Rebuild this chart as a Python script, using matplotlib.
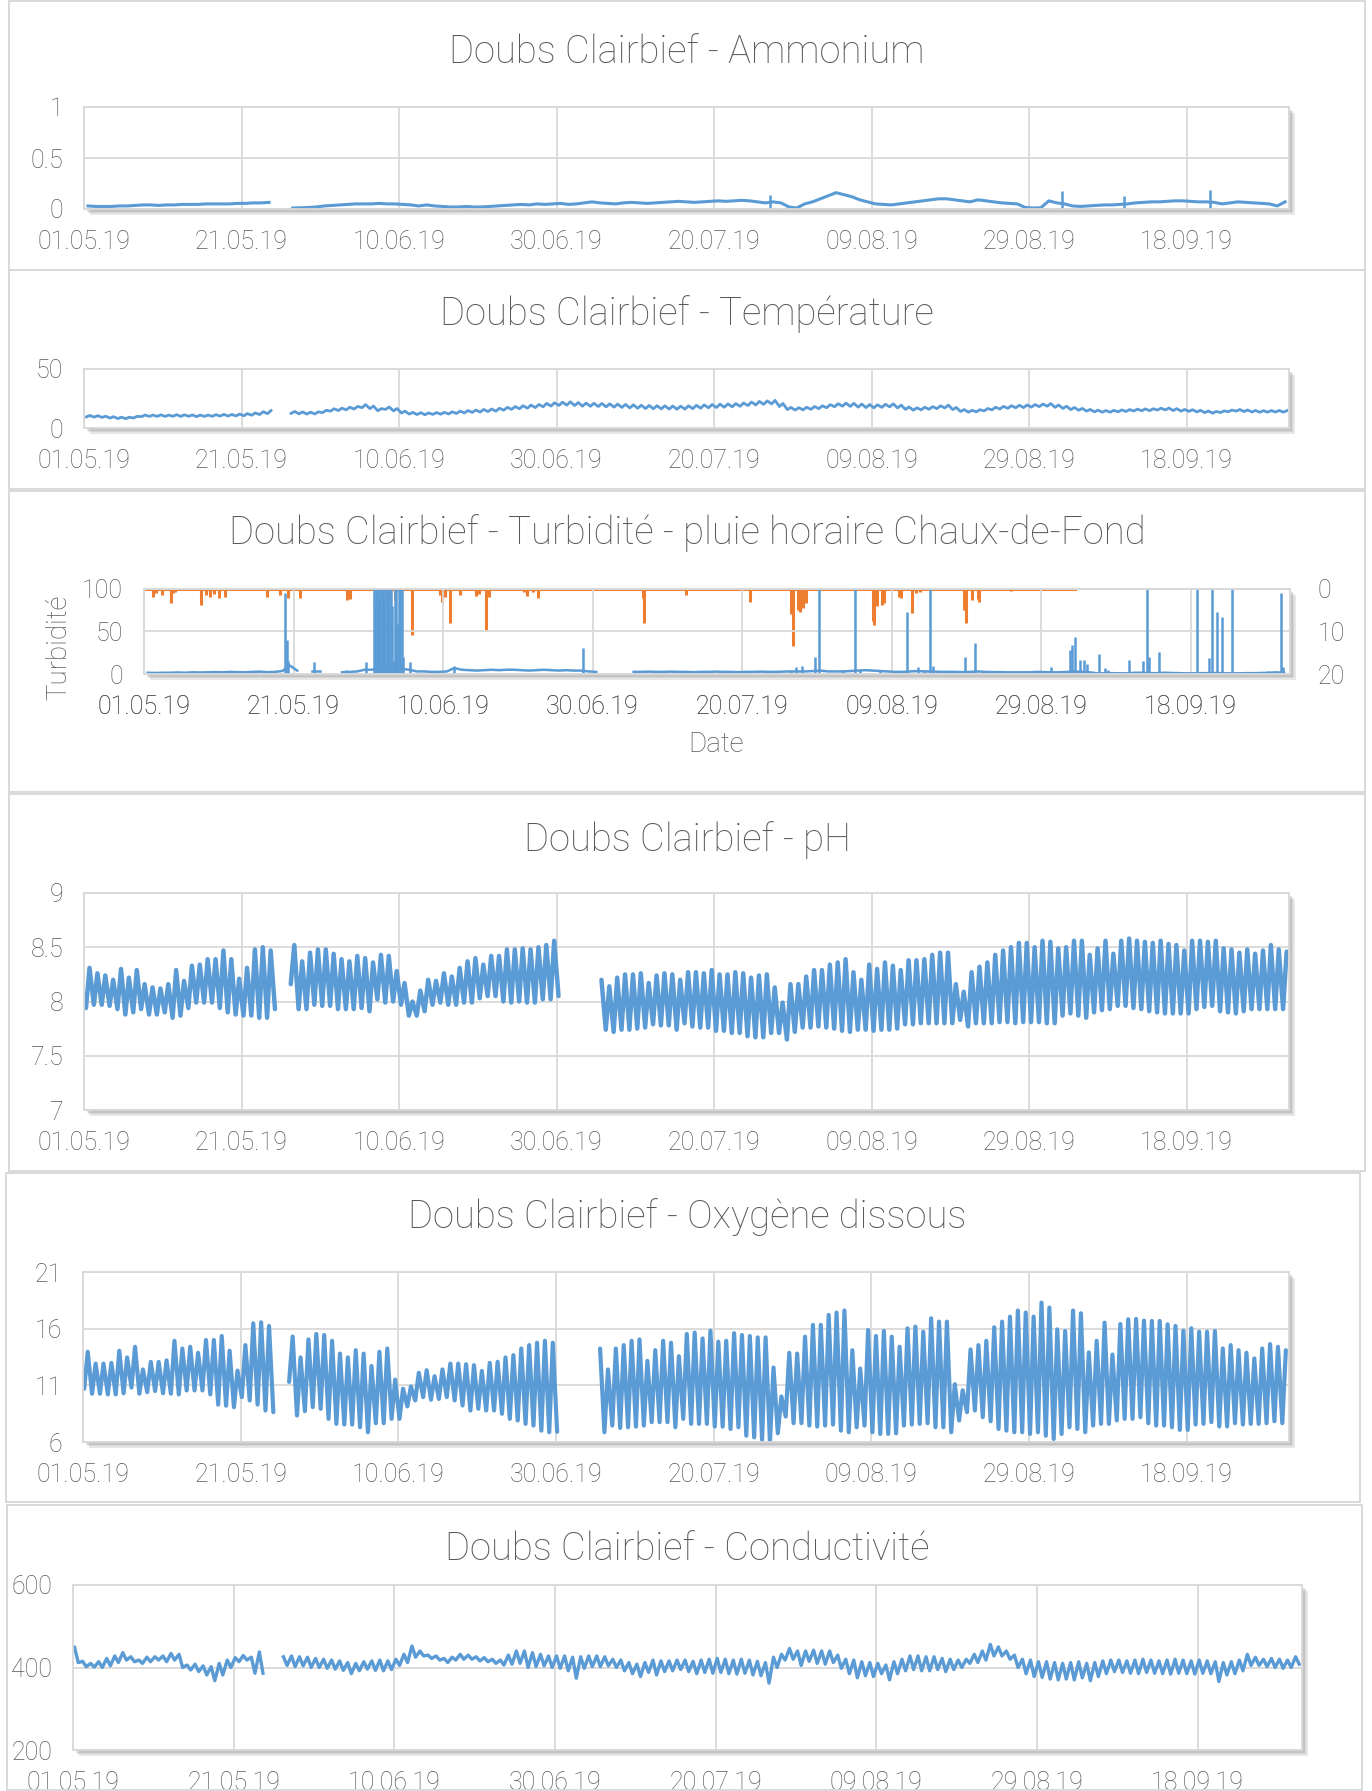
"""Doubs Clairbief: six stacked water-quality charts (mai - septembre 2019)."""

import numpy as np
import pandas as pd
import matplotlib

matplotlib.use("Agg")
import matplotlib.pyplot as plt
from matplotlib import patheffects as pe
from matplotlib.patches import Rectangle

plt.rcParams["font.family"] = ["Roboto", "DejaVu Sans"]
plt.rcParams["font.weight"] = "light"

nan = np.nan

# --------------------------------------------------------------------------- #
# Time axis (days since 01.05.2019)
# --------------------------------------------------------------------------- #
START = pd.Timestamp("2019-05-01")
TICK_DAYS = [0, 20, 40, 60, 80, 100, 120, 140]
X_END = 153.0

BLUE = "#5b9bd5"
ORANGE = "#ed7d31"
GRID = "#d9d9d9"
TEXT = "#595959"

# --------------------------------------------------------------------------- #
# Ammonium (mg/l), one value per day, plus short spikes
# --------------------------------------------------------------------------- #
AMM_START = [0, 26]
AMM_VALUES = [
    [0.030, 0.025, 0.025, 0.025, 0.030, 0.030, 0.035, 0.040, 0.040, 0.035,
     0.040, 0.040, 0.045, 0.045, 0.045, 0.050, 0.050, 0.050, 0.050, 0.055,
     0.055, 0.060, 0.060, 0.065],
    [0.010, 0.012, 0.015, 0.020, 0.030, 0.035, 0.040, 0.045, 0.050, 0.050,
     0.050, 0.055, 0.050, 0.050, 0.045, 0.040, 0.030, 0.040, 0.030, 0.025,
     0.020, 0.020, 0.025, 0.020, 0.020, 0.025, 0.030, 0.035, 0.040, 0.045,
     0.040, 0.050, 0.045, 0.050, 0.055, 0.045, 0.050, 0.060, 0.070, 0.060,
     0.055, 0.050, 0.060, 0.065, 0.060, 0.055, 0.060, 0.065, 0.070, 0.075,
     0.070, 0.065, 0.070, 0.075, 0.080, 0.075, 0.080, 0.085, 0.080, 0.070,
     0.060, 0.070, 0.060, 0.020, 0.010, 0.050, 0.070, 0.100, 0.130, 0.160,
     0.140, 0.120, 0.090, 0.070, 0.050, 0.045, 0.040, 0.050, 0.060, 0.070,
     0.080, 0.090, 0.100, 0.100, 0.090, 0.080, 0.070, 0.090, 0.080, 0.070,
     0.060, 0.055, 0.050, 0.015, 0.010, 0.012, 0.080, 0.060, 0.050, 0.030,
     0.025, 0.030, 0.035, 0.040, 0.040, 0.045, 0.050, 0.060, 0.065, 0.070,
     0.070, 0.075, 0.080, 0.080, 0.075, 0.070, 0.070, 0.065, 0.050, 0.060,
     0.070, 0.065, 0.060, 0.055, 0.050, 0.030, 0.070],
]
AMM_SPIKE_DAY = [87.1, 124.2, 132.0, 143.0]
AMM_SPIKE_VAL = [0.14, 0.18, 0.13, 0.19]

# --------------------------------------------------------------------------- #
# Temperature (°C): daily minimum and maximum
# --------------------------------------------------------------------------- #
TEMP_START = [0, 26]
TEMP_LO = [
    [9.4, 9.2, 9.0, 8.4, 8.0, 7.9, 8.5, 9.6, 9.8, 9.8, 9.8, 9.9, 9.8, 9.9,
     9.6, 9.8, 9.9, 10.1, 10.1, 10.2, 10.4, 10.8, 11.4, 12.2],
    [12.4, 12.0, 11.8, 11.9, 13.0, 14.3, 14.8, 15.4, 16.1, 17.2,
     16.4, 14.6, 15.8, 14.5, 12.7, 11.8, 11.4, 11.2, 11.5, 11.7,
     11.9, 12.3, 12.8, 13.2, 13.5, 13.9, 14.3, 15.1, 15.8, 16.3,
     16.8, 17.3, 18.0, 18.6, 19.1, 19.4, 19.0, 18.5, 18.4, 18.2,
     17.9, 17.7, 17.4, 17.0, 16.7, 16.5, 16.3, 16.2, 16.0, 15.9,
     16.0, 16.4, 16.8, 17.1, 17.4, 17.6, 17.9, 18.4, 19.0, 19.5,
     20.0, 20.4, 18.2, 15.6, 15.2, 15.4, 15.8, 16.4, 17.2, 18.0,
     18.5, 18.3, 17.7, 17.3, 17.1, 17.5, 17.9, 17.0, 15.8, 15.1,
     15.4, 15.9, 16.4, 17.0, 15.6, 14.0, 13.4, 13.7, 14.5, 15.4,
     16.1, 16.7, 17.1, 17.3, 17.7, 18.1, 18.5, 17.5, 16.6, 15.6,
     15.0, 14.3, 13.7, 13.4, 13.4, 13.7, 14.0, 14.4, 14.6, 14.7,
     15.2, 15.3, 14.8, 14.3, 14.1, 13.6, 13.0, 12.6, 13.1, 13.8,
     14.3, 13.9, 13.5, 13.3, 13.4, 13.5, 13.4],
]
TEMP_HI = [
    [10.6, 10.4, 10.0, 9.6, 9.2, 9.1, 9.9, 11.0, 11.0, 11.2, 11.0, 11.3,
     11.2, 11.1, 11.0, 11.0, 11.3, 11.5, 11.5, 11.8, 12.2, 12.8, 13.8, 14.8],
    [14.0, 13.6, 13.4, 13.7, 15.0, 16.3, 16.8, 17.6, 18.3, 19.8,
     18.6, 16.4, 17.8, 16.5, 14.3, 13.2, 13.0, 12.8, 13.1, 13.3,
     13.7, 14.3, 14.8, 15.2, 15.7, 16.1, 16.7, 17.5, 18.2, 18.9,
     19.4, 19.9, 20.8, 21.4, 21.9, 22.2, 21.6, 21.1, 21.0, 20.8,
     20.5, 20.3, 20.0, 19.6, 19.3, 19.1, 18.9, 18.8, 18.6, 18.5,
     18.8, 19.2, 19.6, 19.9, 20.2, 20.4, 20.7, 21.2, 22.0, 22.5,
     23.0, 23.4, 20.8, 17.4, 17.2, 17.6, 18.2, 18.8, 19.8, 20.6,
     21.1, 20.9, 20.3, 19.9, 19.7, 20.1, 20.5, 19.4, 17.8, 17.1,
     17.6, 18.1, 18.8, 19.4, 17.4, 15.6, 15.0, 15.5, 16.5, 17.6,
     18.3, 18.9, 19.3, 19.5, 19.9, 20.3, 20.7, 19.5, 18.4, 17.4,
     16.6, 15.7, 15.1, 14.8, 15.0, 15.3, 15.6, 16.0, 16.2, 16.3,
     16.8, 16.9, 16.4, 15.7, 15.5, 15.0, 14.4, 14.0, 14.5, 15.2,
     15.7, 15.3, 14.9, 14.7, 14.8, 14.9, 14.8],
]

# --------------------------------------------------------------------------- #
# Turbidity (NTU) daily baseline + short events, hourly rain (mm)
# --------------------------------------------------------------------------- #
TURB_START = [0, 22, 26, 65]
TURB_BASE = [
    [1.5, 1.2, 1.5, 1.5, 1.8, 1.5, 2.0, 1.8, 2.0, 2.2, 2.0, 2.5, 2.2, 2.0,
     2.5, 2.8, 2.2, 2.5, 3.5, 10.0, 4.0],
    [4.0, 4.0],
    [2.0, 2.5, 3.0, 5.0, 5.0, 8.0, 10.0, 8.0, 6.0, 5.0, 3.0, 3.0, 2.5, 2.5,
     3.0, 7.0, 5.0, 4.5, 4.0, 4.5, 5.0, 4.5, 5.0, 5.0, 4.5, 4.0, 4.5, 5.0,
     4.5, 4.0, 4.5, 4.0, 4.0, 3.0, 2.5],
    [2.5, 2.5, 2.8, 2.5, 2.5, 2.8, 2.5, 2.5, 2.2, 2.5, 2.5, 2.8, 2.5, 2.5,
     2.2, 2.5, 2.5, 2.8, 2.5, 2.5, 2.8, 3.0,
     3.0, 3.0, 3.5, 4.0, 3.0, 3.0, 3.0, 3.5, 4.0, 4.5, 4.0, 3.5, 3.0, 2.5,
     2.5, 3.0, 3.5, 3.0, 3.0, 2.5, 2.5, 2.5, 2.2, 2.5, 3.0, 2.5, 2.2, 2.2,
     2.0, 2.0, 2.0, 2.0, 2.5, 2.2, 2.0, 2.0, 2.5, 3.0, 2.5, 2.0,
     0.8, 0.8, 1.0, 0.8, 0.8, 1.5, 1.5, 1.0, 1.0, 1.5, 1.2, 1.0, 0.8, 0.8,
     1.0, 1.0, 1.2, 0.8, 0.8, 0.8, 1.0, 1.0, 1.2, 1.5, 2.0, 1.5],
]
TURB_SPIKE_DAY = [
    18.9, 19.1, 19.3, 22.8, 27.0, 29.7,
    30.8, 31.0, 31.1, 31.3, 31.5, 31.6, 31.8, 32.0, 32.1, 32.3, 32.5, 32.6,
    32.8, 33.0, 33.2, 33.4, 33.6, 33.7, 33.9, 34.1, 34.3, 34.5, 34.7,
    35.6, 41.5, 58.7,
    86.5, 87.2, 88.0, 89.7, 90.3, 93.5, 95.1, 95.8, 98.5, 100.5, 102.1,
    103.5, 104.3, 105.1, 105.6, 109.8, 111.1, 119.0, 121.3, 122.4, 123.9,
    124.1, 124.5, 125.2, 125.8, 126.2, 127.7, 128.5, 129.0, 131.7, 133.7,
    134.2, 134.5, 135.8, 140.8, 142.5, 142.8, 143.5, 144.2, 145.5, 150.3,
    152.1, 152.3,
]
TURB_SPIKE_NTU = [
    95, 40, 15, 14, 5, 14,
    130, 80, 130, 130, 90, 130, 130, 130, 85, 130, 130, 95,
    130, 130, 80, 15, 130, 130, 60, 130, 130, 130, 20,
    14, 10, 30,
    5, 8, 9, 20, 130, 5, 130, 5, 4, 3, 73,
    8, 4, 130, 10, 20, 37, 4, 8, 4, 28,
    34, 43, 16, 16, 12, 24, 7, 5, 16, 15,
    130, 20, 26, 130, 19, 130, 73, 67, 130, 3,
    95, 8,
]
RAIN_END = 124.5
RAIN_DAY = [
    1.2, 1.6, 2.4, 3.6, 3.9, 4.2, 7.6, 8.3, 8.8, 9.4, 10.0, 10.8, 16.4,
    18.2, 19.3, 20.9, 27.2, 27.5, 33.6, 35.9, 39.6, 39.9, 40.3, 40.9, 42.3,
    44.4, 44.8, 45.8, 46.2, 50.8, 51.3, 52.0, 52.7, 66.7, 66.9, 72.5, 81.1,
    86.6, 86.8, 87.5, 87.8, 88.2, 88.6, 97.5, 97.7, 98.0, 98.7, 99.0, 101.0,
    101.2, 102.8, 103.3, 103.8, 109.7, 109.9, 110.8, 111.5, 111.7, 116.0,
]
RAIN_MM = [
    1.8, 1.0, 1.5, 3.4, 1.0, 0.8, 3.8, 1.5, 2.0, 1.2, 2.2, 2.0, 1.8,
    1.4, 2.2, 2.2, 2.6, 2.4, 2.6, 10.8, 1.5, 3.0, 2.0, 8.1, 1.4,
    1.6, 1.2, 10.0, 1.8, 0.8, 1.6, 0.6, 2.2, 2.2, 8.0, 1.4, 3.0,
    6.0, 13.4, 5.0, 5.5, 4.5, 3.4, 7.5, 8.5, 4.0, 3.8, 3.2, 1.8,
    2.2, 5.7, 1.0, 0.6, 5.0, 8.0, 2.6, 2.4, 3.0, 0.4,
]

# --------------------------------------------------------------------------- #
# pH: daily minimum (morning) and maximum (afternoon)
# --------------------------------------------------------------------------- #
PH_START = [0, 26, 65]
PH_LO = [
    [7.94, 7.97, 7.97, 7.96, 7.93, 7.88, 7.90, 7.93, 7.88, 7.88, 7.90, 7.85,
     7.87, 7.94, 7.99, 7.99, 7.99, 7.94, 7.90, 7.88, 7.87, 7.87, 7.85, 7.85,
     7.93],
    [8.16, 7.93, 7.93, 7.97, 7.96, 7.96, 7.93, 7.93, 7.93, 7.94, 7.91, 8.02,
     7.99, 8.00, 7.97, 7.87, 7.87, 7.91, 7.97, 7.99, 7.97, 7.97, 7.99, 7.99,
     8.03, 8.05, 8.05, 8.00, 7.99, 8.00, 7.99, 7.99, 8.02, 8.02, 8.05],
    [nan, 7.74, 7.72, 7.74, 7.74, 7.75, 7.76, 7.79, 7.78, 7.78,
     7.74, 7.80, 7.77, 7.76, 7.76, 7.73, 7.73, 7.71, 7.71, 7.68,
     7.67, 7.67, 7.71, 7.71, 7.65, 7.72, 7.76, 7.76, 7.77, 7.76,
     7.75, 7.73, 7.72, 7.74, 7.74, 7.73, 7.74, 7.74, 7.75, 7.79,
     7.79, 7.80, 7.80, 7.80, 7.80, 7.80, 7.83, 7.77, 7.80, 7.80,
     7.80, 7.81, 7.81, 7.80, 7.81, 7.81, 7.81, 7.80, 7.80, 7.87,
     7.89, 7.87, 7.85, 7.90, 7.92, 7.93, 7.96, 7.96, 7.94, 7.93,
     7.91, 7.90, 7.89, 7.89, 7.89, 7.89, 7.93, 7.95, 7.96, 7.91,
     7.90, 7.89, 7.91, 7.93, 7.93, 7.93, 7.93, 7.93],
]
PH_HI = [
    [8.31, 8.26, 8.24, 8.20, 8.30, 8.22, 8.29, 8.16, 8.13, 8.12, 8.16, 8.29,
     8.19, 8.33, 8.34, 8.39, 8.39, 8.47, 8.39, 8.21, 8.31, 8.48, 8.50, 8.47,
     nan],
    [8.52, 8.37, 8.45, 8.48, 8.48, 8.44, 8.39, 8.37, 8.42, 8.40, 8.36, 8.43,
     8.42, 8.28, 8.17, 8.00, 8.10, 8.20, 8.19, 8.26, 8.23, 8.31, 8.37, 8.40,
     8.34, 8.42, 8.42, 8.48, 8.48, 8.49, 8.48, 8.50, 8.52, 8.56, nan],
    [8.20, 8.14, 8.22, 8.25, 8.25, 8.26, 8.17, 8.24, 8.26, 8.25,
     8.20, 8.27, 8.27, 8.26, 8.29, 8.25, 8.25, 8.27, 8.26, 8.22,
     8.24, 8.25, 8.13, 7.99, 8.16, 8.16, 8.23, 8.29, 8.29, 8.34,
     8.36, 8.39, 8.27, 8.20, 8.34, 8.30, 8.36, 8.33, 8.29, 8.38,
     8.38, 8.39, 8.43, 8.45, 8.45, 8.16, 8.09, 8.27, 8.32, 8.36,
     8.43, 8.47, 8.50, 8.54, 8.54, 8.50, 8.56, 8.55, 8.49, 8.50,
     8.56, 8.56, 8.43, 8.49, 8.56, 8.44, 8.56, 8.58, 8.56, 8.55,
     8.54, 8.56, 8.53, 8.52, 8.47, 8.56, 8.56, 8.55, 8.56, 8.49,
     8.48, 8.45, 8.48, 8.44, 8.47, 8.52, 8.48, 8.46],
]

# --------------------------------------------------------------------------- #
# Dissolved oxygen (mg/l): daily minimum and maximum
# --------------------------------------------------------------------------- #
O2_START = [0, 26, 65]
O2_LO = [
    [10.70, 10.26, 10.26, 10.20, 10.20, 10.30, 10.80, 10.26, 10.40, 10.50,
     10.30, 10.26, 10.20, 10.55, 10.55, 10.55, 10.20, 9.30, 9.20, 9.07,
     9.96, 9.67, 9.30, 8.78, 8.63],
    [11.30, 8.34, 8.72, 9.08, 8.93, 8.04, 7.60, 7.54, 7.54, 7.30,
     6.86, 7.66, 7.66, 8.04, 8.04, 9.14, 9.67, 9.96, 9.73, 9.80,
     9.96, 9.67, 9.22, 8.78, 8.93, 8.78, 8.78, 8.49, 8.04, 7.90,
     7.60, 7.45, 7.00, 6.86, 6.90],
    [nan, 6.86, 7.45, 7.24, 7.30, 7.36, 7.45, 7.75, 7.75, 7.75,
     7.30, 8.04, 7.60, 7.60, 7.60, 7.36, 7.36, 7.15, 7.30, 6.56,
     6.41, 6.18, 5.97, 6.77, 8.25, 7.66, 7.66, 7.45, 7.36, 7.45,
     7.54, 7.00, 6.86, 7.30, 7.45, 6.86, 6.71, 6.71, 6.77, 7.45,
     7.54, 7.60, 7.66, 7.30, 7.30, 6.86, 7.90, 8.63, 8.78, 8.19,
     7.83, 7.15, 7.00, 6.86, 6.86, 6.71, 6.86, 6.56, 6.27, 6.71,
     7.30, 7.15, 6.86, 7.45, 7.60, 7.60, 7.90, 8.04, 8.04, 8.19,
     7.66, 7.45, 7.45, 7.30, 7.07, 7.07, 7.54, 7.60, 7.75, 7.37,
     7.37, 7.66, 7.54, 7.60, 7.60, 7.66, 7.83, 7.66],
]
O2_HI = [
    [13.96, 12.92, 12.92, 12.98, 14.05, 13.46, 14.40, 12.40, 13.07, 13.07,
     13.20, 14.93, 14.25, 14.40, 13.87, 15.00, 15.00, 15.35, 14.05, 12.30,
     14.55, 16.47, 16.56, 16.24, nan],
    [15.30, 13.46, 15.05, 15.53, 15.44, 14.93, 13.80, 13.46, 14.10, 13.80,
     12.70, 13.96, 14.25, 11.50, 10.70, 10.90, 12.10, 12.33, 11.80, 12.40,
     12.92, 12.92, 12.86, 12.78, 12.27, 12.98, 13.07, 13.46, 13.66, 14.25,
     14.55, 14.76, 14.93, 14.76, nan],
    [14.25, 12.40, 14.25, 14.55, 14.93, 15.05, 13.16, 14.10, 14.93, 14.76,
     13.57, 15.53, 15.65, 15.14, 15.82, 14.85, 14.93, 15.60, 15.44, 15.35,
     15.23, 15.23, 12.57, 10.02, 13.87, 13.80, 15.29, 16.33, 16.33, 17.21,
     17.42, 17.60, 14.10, 12.48, 15.88, 15.35, 15.80, 15.29, 14.40, 16.03,
     16.18, 15.73, 16.92, 16.62, 16.62, 11.10, 10.56, 14.17, 14.55, 14.93,
     16.12, 16.62, 17.06, 17.60, 17.42, 17.06, 18.30, 17.86, 15.94, 15.79,
     17.60, 17.36, 13.90, 14.93, 16.53, 13.72, 16.41, 16.83, 16.86, 16.71,
     16.68, 16.68, 16.38, 16.24, 15.82, 16.03, 15.73, 15.73, 15.79, 14.25,
     14.55, 14.10, 13.87, 13.37, 14.25, 14.64, 14.40, 14.10],
]

# --------------------------------------------------------------------------- #
# Conductivity (µS/cm): daily maximum and minimum
# --------------------------------------------------------------------------- #
COND_START = [0, 26]
COND_HI = [
    [449, 415, 410, 414, 422, 428, 436, 426, 418, 425, 426, 428, 434, 432,
     406, 408, 404, 402, 410, 418, 424, 429, 425, 438],
    [426, 428, 426, 425, 422, 420, 418, 416, 412, 410,
     414, 416, 418, 416, 420, 432, 452, 440, 430, 428,
     422, 425, 432, 430, 426, 424, 420, 418, 430, 440,
     440, 436, 432, 428, 428, 428, 425, 426, 428, 428,
     426, 420, 418, 412, 408, 412, 418, 416, 416, 418,
     418, 415, 418, 420, 422, 420, 418, 420, 418, 415,
     412, 425, 432, 446, 440, 440, 442, 440, 440, 430,
     420, 418, 414, 412, 410, 406, 414, 420, 428, 428,
     426, 426, 422, 420, 418, 420, 432, 440, 456, 450,
     440, 430, 420, 418, 414, 414, 412, 410, 412, 414,
     410, 412, 416, 418, 418, 416, 418, 420, 418, 416,
     418, 420, 418, 416, 418, 416, 414, 412, 414, 418,
     432, 425, 420, 422, 420, 418, 426],
]
COND_LO = [
    [412, 402, 401, 400, 404, 412, 418, 414, 410, 414, 418, 414, 418, 400,
     394, 390, 382, 368, 382, 400, 414, 418, 386, 386],
    [405, 402, 404, 400, 400, 398, 396, 393, 385, 392,
     396, 393, 392, 395, 405, 412, 425, 428, 422, 418,
     412, 418, 420, 420, 416, 414, 410, 406, 408, 410,
     400, 402, 404, 400, 398, 392, 374, 398, 402, 402,
     404, 400, 392, 385, 378, 388, 382, 390, 392, 395,
     390, 385, 388, 386, 388, 385, 384, 386, 382, 380,
     362, 400, 418, 420, 405, 415, 410, 408, 412, 398,
     385, 375, 380, 378, 385, 370, 385, 392, 395, 392,
     392, 395, 390, 395, 400, 410, 412, 418, 428, 428,
     420, 400, 385, 378, 376, 372, 370, 372, 370, 375,
     368, 378, 385, 390, 388, 386, 385, 388, 386, 385,
     384, 386, 385, 384, 386, 385, 366, 382, 385, 392,
     405, 405, 402, 400, 398, 400, 408],
]


# --------------------------------------------------------------------------- #
# helpers
# --------------------------------------------------------------------------- #
def daily_line(start, values):
    t = start + np.arange(len(values)) + 0.5
    return t, np.asarray(values, dtype=float)


def daily_zigzag(start, first, second, first_at=0.25, second_at=0.7):
    """Two readings per day: `first` early in the day, `second` later."""
    t, v = [], []
    for i, (a, b) in enumerate(zip(first, second)):
        if not np.isnan(a):
            t.append(start + i + first_at)
            v.append(a)
        if not np.isnan(b):
            t.append(start + i + second_at)
            v.append(b)
    return t, v


W, H = 1372, 1791
fig = plt.figure(figsize=(W / 100, H / 100), dpi=100)
fig.patch.set_facecolor("white")


def px_axes(x0, y0, x1, y1):
    return fig.add_axes([x0 / W, 1 - y1 / H, (x1 - x0) / W, (y1 - y0) / H])


def frame(x0, y0, x1, y1):
    fig.patches.append(Rectangle((x0 / W, 1 - y1 / H), (x1 - x0) / W,
                                 (y1 - y0) / H, transform=fig.transFigure,
                                 fill=False, ec=GRID, lw=1.4))


def title(text, y):
    fig.text(687 / W, 1 - y / H, text, ha="center", va="center",
             fontsize=27.5, color=TEXT)


SHADOW = [pe.SimplePatchShadow(offset=(k, -k), shadow_rgbFace="#7f7f7f",
                               alpha=0.18) for k in (1, 2, 3, 4)] + [pe.Normal()]


def style(ax, ylim, yticks, shadow=True):
    ax.set_xlim(0, X_END)
    ax.set_ylim(*ylim)
    ax.set_xticks(TICK_DAYS)
    ax.set_xticklabels([(START + pd.Timedelta(days=d)).strftime("%d.%m.%y")
                        for d in TICK_DAYS])
    ax.set_yticks(yticks)
    ax.set_yticklabels([f"{v:g}" for v in yticks])
    ax.tick_params(length=0, labelsize=18, labelcolor=TEXT)
    ax.tick_params(axis="x", pad=15)
    ax.tick_params(axis="y", pad=15)
    ax.grid(True, color=GRID, lw=1.3)
    ax.set_axisbelow(True)
    for s in ax.spines.values():
        s.set_color(GRID)
        s.set_linewidth(1.3)
    if shadow:
        ax.patch.set_path_effects(SHADOW)


# panel frames
frame(9, 1, 1365, 270)
frame(9, 270, 1365, 489)
frame(9, 491, 1365, 792)
frame(9, 794, 1365, 1171)
frame(6, 1173, 1360, 1502)
frame(7, 1505, 1362, 1790)

# --- Ammonium --------------------------------------------------------------
ax = px_axes(84, 107, 1289, 209)
style(ax, (0, 1), [0, 0.5, 1])
for s0, vals in zip(AMM_START, AMM_VALUES):
    t, v = daily_line(s0, vals)
    ax.plot(t, v, color=BLUE, lw=2.2, solid_joinstyle="round")
ax.vlines(AMM_SPIKE_DAY, 0, AMM_SPIKE_VAL, color=BLUE, lw=1.8)
title("Doubs Clairbief - Ammonium", 52)

# --- Temperature -------------------------------------------------------------
ax = px_axes(84, 369, 1289, 428)
style(ax, (0, 50), [0, 50])
for s0, lo, hi in zip(TEMP_START, TEMP_LO, TEMP_HI):
    t, v = daily_zigzag(s0, lo, hi, 0.3, 0.75)
    ax.plot(t, v, color=BLUE, lw=2.0, solid_joinstyle="round")
title("Doubs Clairbief - Température", 314)

# --- Turbidity + hourly rain -------------------------------------------------
ax_rain = px_axes(144, 589, 1290, 674)
ax = fig.add_axes(ax_rain.get_position())
style(ax_rain, (20, 0), [0, 10, 20])
ax_rain.yaxis.tick_right()
ax_rain.tick_params(axis="y", pad=20)
ax_rain.set_xlim(0, 153.3)
ax_rain.grid(False)
ax_rain.plot([0, RAIN_END], [0, 0], color=ORANGE, lw=2.2)
ax_rain.vlines(RAIN_DAY, 0, RAIN_MM, color=ORANGE, lw=2.2)

style(ax, (0, 100), [0, 50, 100], shadow=False)
ax.set_xlim(0, 153.3)
ax.patch.set_visible(False)
for s0, vals in zip(TURB_START, TURB_BASE):
    t, v = daily_line(s0, vals)
    ax.plot(t, v, color=BLUE, lw=1.8)
ax.vlines(TURB_SPIKE_DAY, 0, TURB_SPIKE_NTU, color=BLUE, lw=1.8)
title("Doubs Clairbief - Turbidité - pluie horaire Chaux-de-Fond", 533)
fig.text(716 / W, 1 - 745 / H, "Date", ha="center", va="center",
         fontsize=20, color=TEXT)
fig.text(59 / W, 1 - 647 / H, "Turbidité", ha="center", va="center",
         rotation=90, fontsize=20, color=TEXT)

# --- pH ------------------------------------------------------------------------
ax = px_axes(84, 893, 1289, 1110)
style(ax, (7, 9), [7, 7.5, 8, 8.5, 9])
for s0, lo, hi in zip(PH_START, PH_LO, PH_HI):
    t, v = daily_zigzag(s0, lo, hi)
    ax.plot(t, v, color=BLUE, lw=3.2, solid_joinstyle="round",
            solid_capstyle="round")
title("Doubs Clairbief - pH", 840)

# --- Dissolved oxygen ---------------------------------------------------------
ax = px_axes(83, 1272, 1289, 1442)
style(ax, (6, 21), [6, 11, 16, 21])
for s0, lo, hi in zip(O2_START, O2_LO, O2_HI):
    t, v = daily_zigzag(s0, lo, hi, 0.15, 0.6)
    ax.plot(t, v, color=BLUE, lw=3.0, solid_joinstyle="round",
            solid_capstyle="round")
title("Doubs Clairbief - Oxygène dissous", 1217)

# --- Conductivity ---------------------------------------------------------------
ax = px_axes(73, 1585, 1302, 1750)
style(ax, (200, 600), [200, 400, 600])
for s0, hi, lo in zip(COND_START, COND_HI, COND_LO):
    t, v = daily_zigzag(s0, hi, lo, 0.2, 0.65)
    ax.plot(t, v, color=BLUE, lw=2.4, solid_joinstyle="round")
title("Doubs Clairbief - Conductivité", 1549)

fig.savefig("out.png", dpi=100, facecolor="white")
